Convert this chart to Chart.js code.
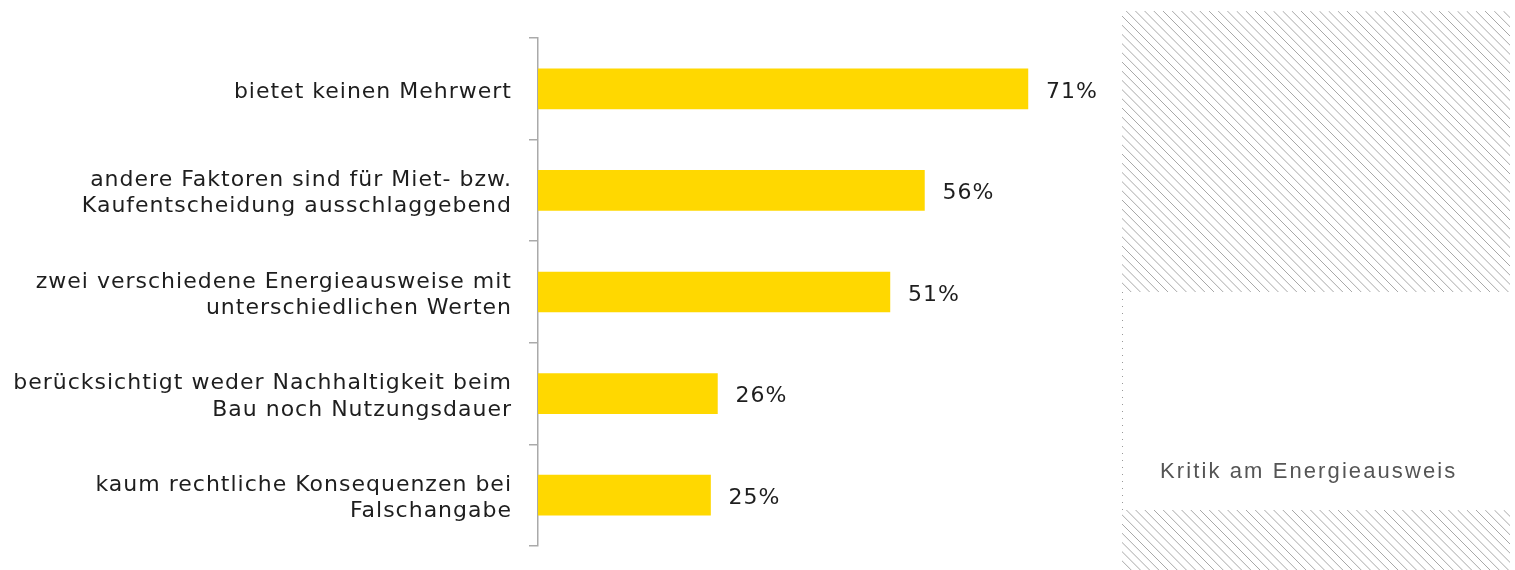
<!DOCTYPE html>
<html>
<head>
<meta charset="utf-8">
<script src="https://cdn.jsdelivr.net/npm/chart.js@4/dist/chart.umd.min.js"></script>
<style>
  body { margin: 0; background: #fff; }
  #wrap { position: relative; width: 1515px; height: 570px; overflow: hidden; }
  #chartCanvas { position: absolute; left: 0; top: 0; }
  #dots {
    position: absolute; left: 1122px; top: 292px; width: 1px; height: 218px;
    background: repeating-linear-gradient(to bottom, #999 0px, #999 1px, transparent 1px, transparent 7px);
  }
  #caption {
    position: absolute; left: 1160px; top: 458px;
    font-family: "Liberation Sans", Arial, sans-serif; font-size: 22px; letter-spacing: 2.1px;
    color: #555;
  }
</style>
</head>
<body>
<div id="wrap">
  <canvas id="chartCanvas" width="1515" height="570"></canvas>
  <div id="dots"></div>
  <div id="caption">Kritik am Energieausweis</div>
</div>
<script>
// Kategorien (mehrzeilig) und Werte in Prozent
var categories = [
  ['bietet keinen Mehrwert'],
  ['andere Faktoren sind für Miet- bzw.', 'Kaufentscheidung ausschlaggebend'],
  ['zwei verschiedene Energieausweise mit', 'unterschiedlichen Werten'],
  ['berücksichtigt weder Nachhaltigkeit beim', 'Bau noch Nutzungsdauer'],
  ['kaum rechtliche Konsequenzen bei', 'Falschangabe']
];
var values = [71, 56, 51, 26, 25];
var valueLabels = ['71%', '56%', '51%', '26%', '25%'];

var textColor = '#1e1e1e';
var labelFont = 'DejaVu Sans, Verdana, sans-serif';
var textShift = 3; // Beschriftung sitzt im Original etwas tiefer

// Buchstabenabstand etwas weiter, wie im Original
var spacingPlugin = {
  id: 'spacing',
  beforeLayout: function(chart) { chart.ctx.letterSpacing = '1px'; },
  beforeDraw: function(chart) { chart.ctx.letterSpacing = '1px'; }
};

// schraffierte Flächen rechts
function hatch(ctx, x, y, w, h) {
  ctx.save();
  ctx.beginPath();
  ctx.rect(x, y, w, h);
  ctx.clip();
  ctx.strokeStyle = '#a8a8a8';
  ctx.lineWidth = 1;
  ctx.beginPath();
  for (var s = x - h; s < x + w; s += 9.2) {
    ctx.moveTo(s, y);
    ctx.lineTo(s + h, y + h);
  }
  ctx.stroke();
  ctx.restore();
}

// Prozentwerte rechts neben den Balken; danach Achsenbeschriftung leicht nach unten
var valuePlugin = {
  id: 'values',
  afterDatasetsDraw: function(chart) {
    var ctx = chart.ctx;
    var meta = chart.getDatasetMeta(0);
    ctx.save();
    ctx.letterSpacing = '1px';
    ctx.font = '22px ' + labelFont;
    ctx.fillStyle = textColor;
    ctx.textAlign = 'left';
    ctx.textBaseline = 'middle';
    meta.data.forEach(function(bar, i) {
      ctx.fillText(valueLabels[i], bar.x + 18, bar.y + textShift);
    });
    ctx.restore();
    ctx.save();
    ctx.translate(0, textShift);
  },
  afterDraw: function(chart) {
    chart.ctx.restore();
    hatch(chart.ctx, 1122, 11, 388, 281);
    hatch(chart.ctx, 1122, 510, 388, 60);
  }
};

var ctx = document.getElementById('chartCanvas').getContext('2d');
var chart = new Chart(ctx, {
  type: 'bar',
  data: {
    labels: categories,
    datasets: [{
      data: values,
      backgroundColor: '#ffd800',
      borderWidth: 0,
      barThickness: 40
    }]
  },
  options: {
    indexAxis: 'y',
    responsive: false,
    animation: false,
    layout: { padding: { left: 0, right: 425, top: 38, bottom: 24 } },
    plugins: { legend: { display: false }, tooltip: { enabled: false } },
    scales: {
      x: { display: false, min: 0, max: 80 },
      y: {
        afterFit: function(scale) {
          scale.width = 538;
          scale.paddingTop = 0;
          scale.paddingBottom = 0;
        },
        grid: { drawOnChartArea: false, drawTicks: true, tickLength: 9, color: '#aaa', lineWidth: 1.5 },
        border: { display: true, color: '#aaa', width: 1.5 },
        ticks: {
          z: 1,
          color: textColor,
          padding: 17,
          font: { family: labelFont, size: 22, lineHeight: 1.2 }
        }
      }
    }
  },
  plugins: [spacingPlugin, valuePlugin]
});
</script>
</body>
</html>
